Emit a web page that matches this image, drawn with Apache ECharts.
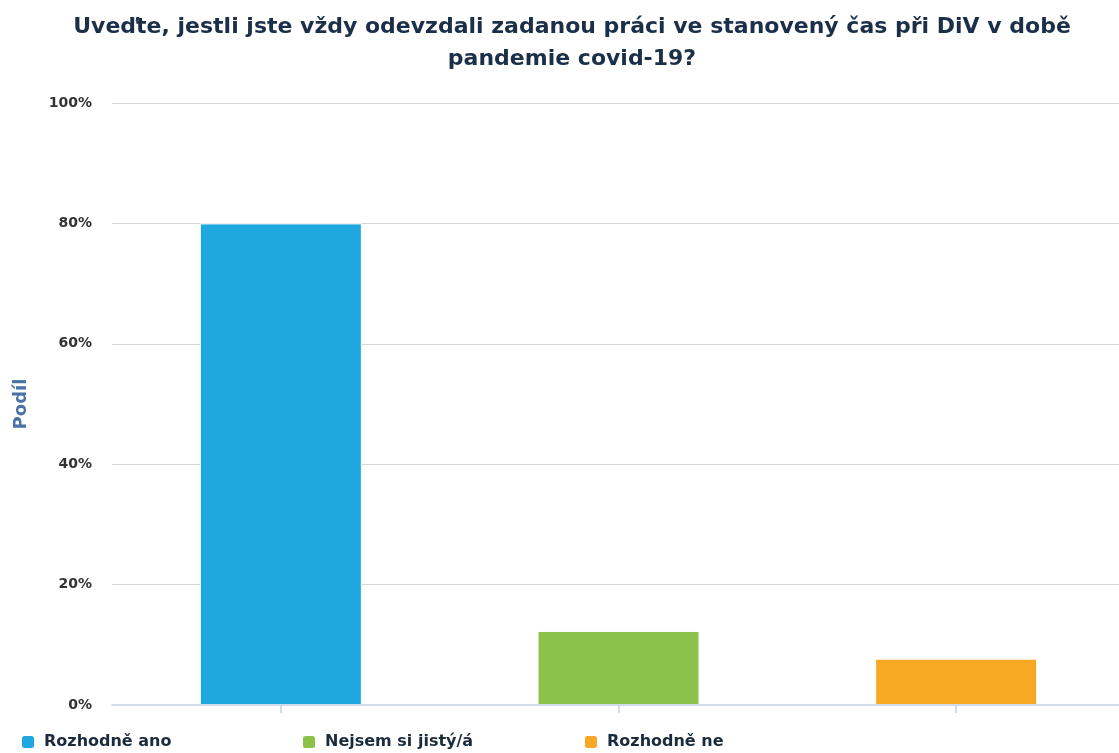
<!DOCTYPE html>
<html>
<head>
<meta charset="utf-8">
<script src="https://cdn.jsdelivr.net/npm/echarts@6/dist/echarts.min.js"></script>
<style>
  html, body { margin: 0; padding: 0; background: #ffffff; overflow: hidden; }
  #chart { width: 1125px; height: 753px; }
</style>
</head>
<body>
<div id="chart"></div>
<script>
// Answers and their shares (percent)
const categories = ['Rozhodně ano', 'Nejsem si jistý/á', 'Rozhodně ne'];
const shares = [80.0, 12.3, 7.7];
const colors = ['#1fa8e0', '#8bc34a', '#f9a825'];
const yTicks = [0, 20, 40, 60, 80, 100];

const titleText = 'Uveďte, jestli jste vždy odevzdali zadanou práci ve stanovený čas při DiV v době\npandemie covid-19?';

const FONT = 'DejaVu Sans';

const chart = echarts.init(document.getElementById('chart'), null, { renderer: 'canvas' });

// one series per answer so that each gets its own legend entry
const series = categories.map((name, i) => ({
  name: name,
  type: 'bar',
  barWidth: 162,
  barGap: '-100%',
  itemStyle: { color: colors[i], borderColor: '#ffffff', borderWidth: 1 },
  data: categories.map((c, j) => (j === i ? shares[i] : '-'))
}));

const legendLeft = [15, 296, 578];
const legends = categories.map((name, i) => ({
  data: [name],
  left: legendLeft[i],
  top: 729,
  icon: 'roundRect',
  itemWidth: 14,
  itemHeight: 14,
  textStyle: {
    fontFamily: FONT,
    fontWeight: 'bold',
    fontSize: 16,
    color: '#1c2b3c',
    padding: [0, 0, 0, 4]
  }
}));

chart.setOption({
  animation: false,
  title: {
    text: titleText,
    left: 567,
    textAlign: 'center',
    top: 6,
    textStyle: {
      fontFamily: FONT,
      fontWeight: 'bold',
      fontSize: 22,
      lineHeight: 32,
      color: '#1b2f48'
    }
  },
  legend: legends,
  grid: { left: 112, right: 0, top: 103, bottom: 48, containLabel: false },
  xAxis: {
    type: 'category',
    data: categories,
    z: 5,
    axisLine: { lineStyle: { color: '#c3cfe6', width: 1.5 } },
    axisTick: { show: true, interval: 0, alignWithLabel: true, length: 8, lineStyle: { color: '#c3cfe6', width: 1.5 } },
    axisLabel: { show: false, interval: 0 }
  },
  yAxis: {
    type: 'value',
    min: yTicks[0],
    max: yTicks[yTicks.length - 1],
    interval: 20,
    name: 'Podíl',
    nameLocation: 'middle',
    nameGap: 82,
    nameRotate: 90,
    nameTextStyle: {
      fontFamily: FONT,
      fontWeight: 'bold',
      fontSize: 18,
      color: '#4a72a6'
    },
    axisLine: { show: false },
    axisTick: { show: false },
    axisLabel: {
      formatter: '{value}%',
      margin: 20,
      fontFamily: FONT,
      fontWeight: 'bold',
      fontSize: 14,
      color: '#333333'
    },
    splitLine: { showMinLine: false, lineStyle: { color: '#d6d6d6', width: 1 } }
  },
  series: series
});
</script>
</body>
</html>
